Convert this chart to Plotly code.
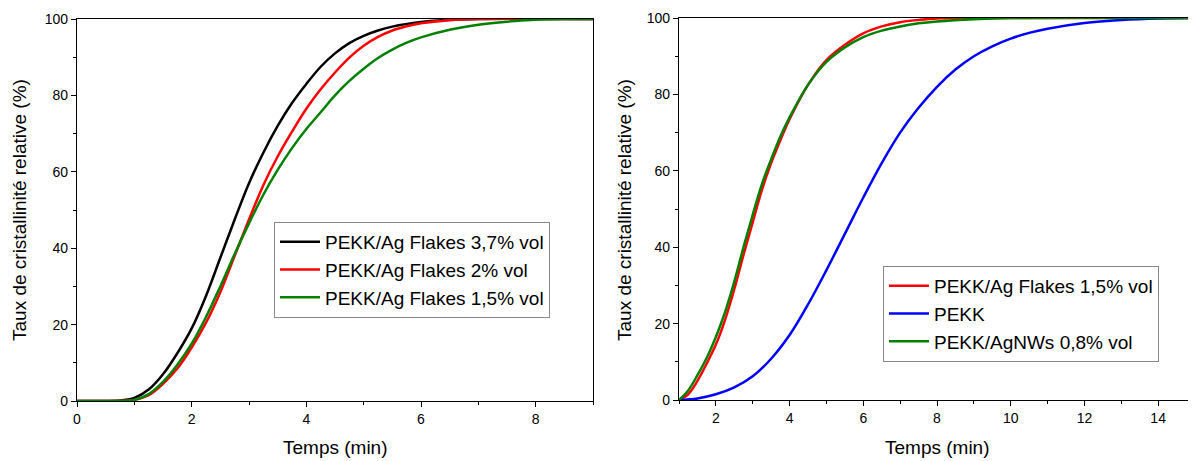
import plotly.graph_objects as go

# ---------------- data ----------------
# Left panel
t_black = [0, 0.5, 0.8, 1.0, 1.25, 1.5, 1.75, 2.0, 2.25, 2.5, 2.75, 3.0, 3.25, 3.5, 3.75, 4.0,
           4.25, 4.5, 4.75, 5.0, 5.25, 5.5, 6.0, 6.5, 7.0, 9.0]
y_black = [0, 0, 0.2, 0.8, 3, 7, 12.5, 19, 27.5, 37.5, 47.5, 57, 65, 72, 78, 83,
           87.5, 91, 93.7, 95.6, 97, 98, 99.2, 99.8, 100, 100]

t_red = [0, 0.5, 0.8, 1.0, 1.25, 1.5, 1.75, 2.0, 2.25, 2.5, 2.75, 3.0, 3.25, 3.5, 3.75, 4.0,
         4.25, 4.5, 4.75, 5.0, 5.25, 5.5, 5.75, 6.0, 6.5, 7.0, 9.0]
y_red = [0, 0, 0.05, 0.3, 1.5, 4.5, 8.5, 14, 20.5, 28.5, 38, 47.5, 56.5, 64, 70.5, 76.5,
         81.6, 86.0, 89.9, 93.0, 95.3, 97.0, 98.1, 98.9, 99.7, 100, 100]

t_green = [0, 0.5, 0.8, 1.0, 1.25, 1.5, 1.75, 2.0, 2.25, 2.5, 2.75, 3.0, 3.25, 3.5, 3.75, 4.0,
           4.25, 4.5, 4.75, 5.0, 5.25, 5.5, 5.75, 6.0, 6.5, 7.0, 7.5, 8.0, 8.5, 9.0]
y_green = [0, 0, 0.05, 0.3, 1.8, 5, 9.5, 15, 22, 30, 38.5, 46.5, 54, 60.5, 66.2, 71.2,
           75.6, 80, 83.8, 87, 89.8, 92, 93.8, 95.2, 97.2, 98.5, 99.3, 99.8, 100, 100]

# Right panel
t_r_red = [1.0, 1.25, 1.5, 1.75, 2.0, 2.25, 2.5, 2.75, 3.0, 3.25, 3.5, 3.75, 4.0, 4.5, 5.0,
           5.5, 6.0, 6.5, 7.0, 7.5, 8.0, 9.0, 15.0]
y_r_red = [0, 1.5, 5, 9.5, 14.5, 21, 29, 38, 46.5, 55, 62, 68, 73.5, 82.5, 89,
           93, 96, 97.8, 98.9, 99.5, 99.9, 100, 100]

t_r_blue = [1.0, 1.5, 2.0, 2.5, 3.0, 3.5, 4.0, 4.5, 5.0, 5.5, 6.0, 6.5, 7.0, 7.5, 8.0,
            8.5, 9.0, 9.5, 10.0, 10.5, 11.0, 12.0, 13.0, 14.0, 15.0]
y_r_blue = [0, 0.4, 1.5, 3.3, 6.2, 10.8, 17, 25, 34, 43.5, 53, 62, 70, 76.5, 82,
            86.5, 90, 92.6, 94.6, 96.1, 97.2, 98.7, 99.5, 99.9, 100]

t_r_green = [1.0, 1.25, 1.5, 1.75, 2.0, 2.25, 2.5, 2.75, 3.0, 3.25, 3.5, 3.75, 4.0, 4.5, 5.0,
             5.5, 6.0, 6.5, 7.0, 7.5, 8.0, 9.0, 10.0, 15.0]
y_r_green = [0, 2.5, 6.5, 11, 16.5, 23, 31, 40, 48.5, 56.5, 63, 69, 74, 82.5, 88.5,
             92.3, 95, 96.7, 97.8, 98.6, 99.1, 99.7, 100, 100]

names_left = ["PEKK/Ag Flakes 3,7% vol", "PEKK/Ag Flakes 2% vol", "PEKK/Ag Flakes 1,5% vol"]
names_right = ["PEKK/Ag Flakes 1,5% vol", "PEKK", "PEKK/AgNWs 0,8% vol"]

x_title = "Temps (min)"
y_title = "Taux de cristallinité relative (%)"

# ---------------- styling ----------------
FONT = "Liberation Sans, Arial, sans-serif"
OFF = 8                     # page body margin of the browser
W, H = 1196 - OFF, 461 - OFF
LW = 2.5

fig = go.Figure()

def add(x, y, name, color, xa, ya, legend):
    fig.add_trace(go.Scatter(x=x, y=y, name=name, mode="lines",
                             line=dict(color=color, width=LW, shape="spline", smoothing=1.0),
                             xaxis=xa, yaxis=ya, legend=legend))

add(t_black, y_black, names_left[0], "#000000", "x", "y", "legend")
add(t_red, y_red, names_left[1], "#ff0000", "x", "y", "legend")
add(t_green, y_green, names_left[2], "#008000", "x", "y", "legend")

add(t_r_red, y_r_red, names_right[0], "#ff0000", "x2", "y2", "legend2")
add(t_r_blue, y_r_blue, names_right[1], "#0000ff", "x2", "y2", "legend2")
add(t_r_green, y_r_green, names_right[2], "#008000", "x2", "y2", "legend2")

# pixel geometry of plot areas (page pixels)
L1, R1 = 77, 593
L2, R2 = 679, 1195
T, B = 19, 401

def px(x):
    return (x - OFF) / W

def py(y):
    return 1 - (y - OFF) / H

axis_common = dict(showgrid=False, zeroline=False, showline=True, linecolor="#000000",
                   linewidth=1.3, mirror=True, ticks="outside", ticklen=5, tickwidth=1,
                   tickcolor="#000000", automargin=False,
                   tickfont=dict(family=FONT, size=14, color="#000000"))

leg_font = dict(family=FONT, size=19, color="#000000")

fig.update_layout(
    template="none",
    width=W, height=H,
    margin=dict(l=0, r=0, t=0, b=0, pad=0, autoexpand=False),
    paper_bgcolor="white", plot_bgcolor="white",
    font=dict(family=FONT, color="#000000"),
    xaxis=dict(domain=[px(L1), px(R1)], range=[0, 9], dtick=2, tick0=0,
               minor=dict(ticks="outside", ticklen=3, dtick=1, tickcolor="#000000"),
               anchor="y", **axis_common),
    yaxis=dict(domain=[py(B), py(T)], range=[0, 100], dtick=20, tick0=0,
               minor=dict(ticks="outside", ticklen=3, dtick=10, tickcolor="#000000"),
               anchor="x", **axis_common),
    xaxis2=dict(domain=[px(L2), min(1.0, px(R2))], range=[1, 15], dtick=2, tick0=0,
                minor=dict(ticks="outside", ticklen=3, dtick=1, tickcolor="#000000"),
                anchor="y2", **axis_common),
    yaxis2=dict(domain=[py(B - 1), py(T - 1)], range=[0, 100], dtick=20, tick0=0,
                minor=dict(ticks="outside", ticklen=3, dtick=10, tickcolor="#000000"),
                anchor="x2", **axis_common),
    legend=dict(x=px(274), y=py(222), xanchor="left", yanchor="top",
                bordercolor="#888888", borderwidth=1, bgcolor="white",
                font=leg_font, tracegroupgap=0, itemwidth=40),
    legend2=dict(x=px(883), y=py(266), xanchor="left", yanchor="top",
                 bordercolor="#888888", borderwidth=1, bgcolor="white",
                 font=leg_font, tracegroupgap=0, itemwidth=40),
    showlegend=True,
)

ann_font = dict(family=FONT, size=19, color="#000000")
annots = [
    dict(text=x_title, x=px((L1 + R1) / 2), y=py(447), xref="paper", yref="paper",
         xanchor="center", yanchor="middle", showarrow=False, font=ann_font),
    dict(text=x_title, x=px((L2 + R2) / 2), y=py(447), xref="paper", yref="paper",
         xanchor="center", yanchor="middle", showarrow=False, font=ann_font),
    dict(text=y_title, x=px(19), y=py((T + B) / 2), xref="paper", yref="paper",
         xanchor="center", yanchor="middle", showarrow=False, textangle=-90, font=ann_font),
    dict(text=y_title, x=px(624), y=py((T + B) / 2), xref="paper", yref="paper",
         xanchor="center", yanchor="middle", showarrow=False, textangle=-90, font=ann_font),
]
fig.update_layout(annotations=annots)

fig.write_html("out.html")
